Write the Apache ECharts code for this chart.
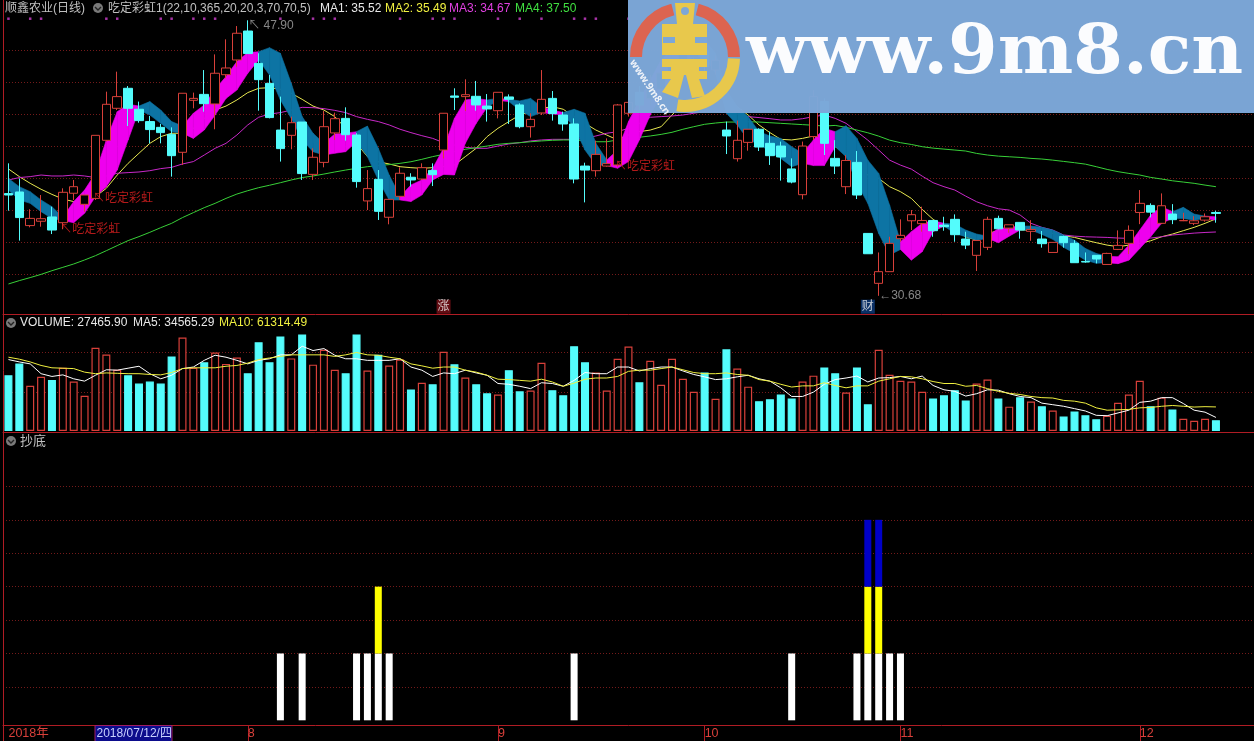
<!DOCTYPE html>
<html>
<head>
<meta charset="utf-8">
<title>顺鑫农业(日线)</title>
<script src="https://cdn.jsdelivr.net/npm/echarts@6/dist/echarts.min.js"></script>
<style>
  html, body { margin: 0; padding: 0; background: #000; overflow: hidden; }
  #main { width: 1254px; height: 741px; }
</style>
</head>
<body>
<div id="main"></div>
<script>
// 日K
const opens = [37.07,37.17,35.07,35.34,35.61,35.25,37.09,36.40,36.77,40.40,
  42.40,43.65,42.34,41.57,41.21,40.77,39.65,42.90,43.27,42.67,
  44.50,45.42,47.23,45.21,43.96,41.04,40.71,41.54,38.27,39.02,
  40.86,41.77,40.73,36.61,37.96,35.59,36.90,38.09,37.98,38.52,
  39.79,43.17,43.13,43.15,42.54,42.25,43.11,42.61,41.25,42.11,
  43.02,41.98,41.42,38.79,38.50,38.79,38.86,42.09,43.40,43.00,
  43.60,44.30,45.00,45.60,46.00,44.80,41.04,39.25,40.27,41.09,
  40.21,40.04,38.61,37.00,40.63,42.82,39.27,37.50,39.02,34.58,
  31.46,32.19,34.25,35.37,35.19,35.39,35.10,35.46,34.23,33.21,
  33.71,35.52,34.91,35.27,34.71,34.23,33.39,34.39,33.96,32.83,
  33.21,32.64,33.58,33.96,35.89,36.33,35.21,35.79,35.37,35.21,
  35.41,35.89];
const closes = [36.98,35.57,35.52,35.50,34.79,37.15,37.50,36.98,40.71,42.65,
  43.13,42.40,41.63,41.07,40.88,39.44,43.34,43.02,42.69,44.59,
  44.92,47.09,45.82,44.19,41.82,39.88,41.50,38.32,39.34,41.25,
  41.75,40.75,37.82,37.38,35.96,36.71,38.34,37.92,38.69,38.25,
  42.09,43.09,43.25,42.61,42.36,43.40,42.96,41.25,41.71,42.96,
  42.07,41.42,37.98,38.54,39.52,38.94,42.61,42.77,42.60,44.00,
  44.60,45.30,46.00,46.50,45.00,45.40,40.67,40.40,41.09,39.98,
  39.44,39.36,37.79,40.04,43.13,40.21,38.79,39.14,36.98,33.31,
  32.19,33.96,34.46,35.75,35.39,34.75,35.00,34.50,33.85,34.14,
  35.46,34.87,35.12,34.79,34.83,33.94,34.02,34.00,32.75,32.79,
  32.98,33.33,33.83,34.77,36.46,35.91,36.31,35.44,35.39,35.37,
  35.62,35.83];
const lows = [36.00,34.13,34.96,35.00,34.54,34.84,36.67,35.94,36.67,40.32,
  42.29,41.29,41.50,40.21,40.21,38.13,38.86,42.40,42.19,41.09,
  44.27,45.00,45.82,42.25,41.77,39.07,39.84,37.92,37.92,38.71,
  40.42,40.38,37.44,36.04,35.42,35.15,36.67,37.50,37.92,37.54,
  39.27,42.29,42.23,42.25,41.57,41.77,41.42,41.15,40.57,41.98,
  41.63,41.00,37.71,36.52,38.13,38.75,38.75,41.88,42.30,42.60,
  43.20,44.00,44.70,45.20,44.60,44.50,39.54,39.07,39.75,39.73,
  38.86,37.88,37.71,36.71,40.42,39.48,38.29,37.04,36.73,33.31,
  30.68,32.19,34.06,34.79,34.69,34.37,34.75,34.06,33.60,32.23,
  33.54,34.83,34.62,34.25,34.12,33.69,33.39,33.69,32.75,32.75,
  32.71,32.64,33.54,33.29,35.16,35.58,35.16,35.16,35.35,35.10,
  35.31,35.25];
const highs = [38.96,38.02,36.09,36.98,36.25,37.40,37.92,36.98,40.71,43.44,
  44.69,43.79,42.82,41.92,41.42,41.21,43.34,43.38,44.79,45.77,
  46.71,47.54,47.90,45.84,44.48,43.13,41.88,41.54,39.90,42.23,
  42.13,42.46,40.84,38.54,38.54,36.71,38.71,38.34,38.96,38.96,
  42.09,43.65,44.21,44.11,43.29,43.40,43.27,42.71,42.09,44.79,
  43.48,42.19,41.77,39.00,40.38,40.52,42.67,42.92,43.80,44.50,
  45.00,45.80,46.60,47.00,46.40,45.70,41.57,41.63,41.09,41.15,
  40.94,40.32,39.27,40.32,43.54,43.02,40.41,39.48,39.73,34.58,
  33.39,34.37,35.46,36.04,36.25,35.39,35.62,35.77,34.69,34.14,
  35.62,35.69,35.12,35.27,35.41,34.73,34.02,34.44,34.16,33.39,
  33.21,33.37,34.77,35.08,37.29,36.46,37.08,36.41,35.87,35.66,
  35.83,36.00];

// 彩虹带 上下沿
const bandTop = [38.02,37.50,37.19,36.67,36.25,35.59,36.57,37.29,38.34,40.42,
  42.19,42.65,42.54,42.82,42.29,41.57,41.29,42.09,42.61,43.59,
  44.38,45.32,45.88,45.94,46.19,45.84,43.96,41.88,40.84,40.21,
  40.79,40.84,40.94,41.29,39.90,38.23,36.88,37.61,37.92,38.65,
  39.90,41.77,42.92,43.02,42.92,43.02,42.96,42.86,43.02,42.50,
  42.29,42.13,42.34,42.09,40.21,39.17,39.79,41.57,42.92,44.17,
  45.42,46.05,46.46,46.77,46.67,45.84,43.54,42.50,41.88,40.94,
  40.67,40.52,40.00,39.59,40.42,41.15,40.94,41.31,40.52,39.16,
  38.33,36.35,34.06,34.69,35.21,35.37,35.21,35.16,34.79,34.54,
  34.41,34.89,34.96,35.04,35.04,34.96,34.79,34.48,34.16,33.64,
  33.33,33.16,33.12,33.85,34.79,35.73,36.25,35.94,36.21,35.79,
  35.66,35.62];
const bandBottom = [37.29,36.67,36.46,35.94,35.52,35.38,35.25,35.84,36.88,37.50,
  38.54,40.42,42.29,41.98,41.46,40.94,40.84,40.52,41.04,41.98,
  43.02,43.54,44.59,45.42,44.48,42.92,41.77,40.42,39.69,39.48,
  39.59,39.69,40.32,39.38,37.92,36.67,36.67,36.57,36.98,37.92,
  38.27,38.23,40.21,41.46,42.46,42.88,42.82,42.29,41.88,42.13,
  42.04,41.98,41.25,39.79,38.86,38.82,38.65,39.07,40.42,41.98,
  43.23,44.38,45.21,45.63,45.63,44.59,42.09,41.36,40.42,40.17,
  39.69,39.27,38.75,38.96,38.82,38.82,40.00,39.37,37.71,36.46,
  34.58,33.23,33.58,32.91,33.44,34.69,35.04,34.58,34.37,34.16,
  34.27,34.00,34.41,34.79,34.79,34.52,34.21,33.71,33.33,32.91,
  32.71,32.75,32.69,32.91,33.64,34.37,35.21,35.52,35.52,35.41,
  35.52,35.41];
// 每一段的方向 1 涨 0 跌
const bandDir = [0,0,0,0,0,1,1,1,1,1,1,1,0,0,0,0,1,1,1,1,
  1,1,1,0,0,0,0,0,0,1,1,1,0,0,0,0,1,1,1,1,
  1,1,1,1,0,1,0,0,0,1,1,0,0,0,0,1,1,1,1,1,
  1,1,1,1,0,0,0,0,0,0,0,0,0,1,1,1,0,0,0,0,
  0,0,1,1,1,1,0,0,0,0,1,1,1,0,0,0,0,0,0,0,
  0,1,1,1,1,1,1,0,0,0,1];

const ma2Line = [38.61,38.13,37.71,37.34,37.02,36.73,36.57,36.61,36.88,37.40,
  38.23,38.96,39.59,40.21,40.63,40.84,40.84,41.15,41.77,42.29,
  42.54,42.92,43.38,43.65,43.69,43.59,43.34,42.96,42.54,42.29,
  41.88,41.15,40.21,39.38,39.06,38.92,38.75,38.69,38.65,38.69,
  38.75,38.86,39.38,39.90,40.63,41.15,41.57,41.98,42.19,42.40,
  42.50,42.34,41.88,41.46,41.04,40.73,40.42,40.73,40.94,41.04,
  41.25,41.98,42.71,43.13,43.23,43.13,42.92,42.50,41.98,41.36,
  40.88,40.46,40.42,40.52,40.67,40.32,40.00,39.58,38.85,38.23,
  38.02,37.50,37.19,36.77,36.08,35.46,35.04,34.79,34.37,34.16,
  34.58,34.75,34.79,34.79,34.79,34.69,34.58,34.44,34.33,34.16,
  34.00,33.85,33.75,33.85,33.96,34.12,34.37,34.54,34.75,34.96,
  35.21,35.49];
const ma3Line = [37.92,38.07,38.13,38.23,38.17,38.17,38.23,38.17,38.07,38.17,
  38.34,38.38,38.42,38.50,38.63,38.71,38.92,39.07,39.48,39.90,
  40.21,40.73,41.36,41.84,42.04,42.13,42.29,42.46,42.44,42.38,
  42.27,42.13,41.88,41.71,41.57,41.36,41.09,40.88,40.69,40.52,
  40.25,40.11,39.96,39.90,39.90,40.04,40.17,40.25,40.36,40.42,
  40.46,40.46,40.46,40.52,40.67,40.84,40.94,41.15,41.46,41.84,
  41.88,41.92,41.98,42.09,42.19,42.19,42.13,42.04,41.88,41.82,
  41.75,41.67,41.67,41.75,41.88,41.98,41.77,41.46,40.94,40.41,
  39.79,39.16,38.85,38.60,38.16,37.75,37.50,37.29,36.91,36.56,
  36.31,36.12,36.04,35.73,35.21,34.96,34.79,34.48,34.41,34.37,
  34.35,34.33,34.29,34.27,34.27,34.29,34.37,34.48,34.54,34.60,
  34.64,34.67];
const ma4Line = [31.42,31.63,31.82,32.02,32.25,32.46,32.67,32.92,33.19,33.50,
  33.82,34.13,34.38,34.65,34.94,35.21,35.57,35.88,36.19,36.46,
  36.77,37.04,37.25,37.44,37.59,37.75,37.92,38.07,38.17,38.29,
  38.42,38.54,38.65,38.75,38.82,38.88,38.96,39.06,39.21,39.38,
  39.52,39.69,39.84,39.94,40.04,40.15,40.21,40.25,40.31,40.36,
  40.40,40.42,40.42,40.38,40.31,40.31,40.42,40.52,40.59,40.67,
  40.77,40.90,41.09,41.25,41.40,41.48,41.54,41.54,41.56,41.54,
  41.50,41.46,41.42,41.38,41.34,41.29,41.33,41.21,41.04,40.87,
  40.66,40.41,40.25,40.14,40.00,39.91,39.85,39.79,39.73,39.58,
  39.48,39.41,39.37,39.33,39.27,39.23,39.16,39.08,39.00,38.91,
  38.75,38.58,38.44,38.33,38.23,38.08,37.98,37.87,37.79,37.71,
  37.60,37.50];

// 成交量 单位:千手
const volumes = [142,172,115,138,130,161,126,90,212,195,
  156,142,121,126,121,190,238,161,175,200,
  171,187,147,226,175,241,185,246,169,207,
  156,147,246,154,194,167,182,106,123,119,
  202,170,136,119,96,93,155,101,103,174,
  104,91,216,175,149,103,184,215,124,179,
  118,184,133,100,149,82,208,159,113,76,
  81,93,83,126,141,162,147,98,162,68,
  207,143,128,126,100,83,91,104,78,121,
  131,83,62,86,75,63,52,37,50,40,
  30,39,72,93,128,63,85,55,31,26,
  31,27.47];
const volMa5 = [182,176,171,146,139,143,133,127,142,156,
  155,160,165,146,133,142,159,163,180,193,
  188,180,171,180,184,194,194,216,205,210,
  193,184,184,180,180,180,184,163,155,139,
  148,146,155,148,142,121,119,114,108,123,
  121,114,129,149,146,146,163,163,153,159,
  163,163,153,144,138,131,133,138,142,133,
  127,110,88,88,99,119,131,135,140,125,
  135,136,139,133,140,116,105,101,89,95,
  105,104,95,88,85,71,67,63,57,51,
  40,39,46,53,73,76,85,85,70,53,
  48,34.57];
const volMa10 = [188,183,176,167,161,160,159,150,146,148,
  147,146,146,144,143,149,159,161,161,161,
  165,167,173,182,186,190,194,194,194,194,
  190,194,200,194,193,188,184,171,166,160,
  163,163,155,150,142,132,131,129,127,132,
  125,114,122,132,135,135,139,152,155,155,
  159,163,156,149,146,146,148,144,142,131,
  127,119,112,115,115,123,116,110,115,115,
  127,133,139,138,133,126,121,121,114,116,
  108,101,96,93,88,85,84,78,76,71,
  59,53,54,55,59,60,63,65,63,61,
  62,61.31];

// 抄底 信号
const whiteIdx = [25,27,32,33,34,35,52,72,78,79,80,81,82];
const yellowIdx = [34,79,80];
const blueIdx = [79,80];

// 顶部信号点 / 标注
const dotIdx = [0,2,3,9,10,14,15,17,18,19,25,28,29,30,36,39,40,41,45,47,49,52,53,54,57];
const priceNoteIdx = [22,80];
const priceNoteVal = [47.90,30.68];
const signalIdx = [5,8,56];
const signalVal = [34.80,36.75,38.74];
const badgeIdx = [40,79];
const badgeText = ["涨","财"];
const badgeBg = ["#7c1018","#0c3c80"];

// 月份刻度
const tickIdx = [0,22,45,64,82,104];
const tickText = ["2018年","8","9","10","11","12"];

const RED = "#d8403a";
const LINE_RED = "#b01c24";
const CYAN = "#54fcfc";
const categories = Array.from({ length: 115 }, (_, i) => String(i));

function flagBars(idxList) {
  return categories.map((_, i) => (idxList.includes(i) ? 2 : 0));
}

const candleData = opens.map((o, i) => [o, closes[i], lows[i], highs[i]]);
const bandData = bandDir.map((d, i) => [i, bandTop[i], bandBottom[i], bandTop[i + 1], bandBottom[i + 1], d]);
const volumeData = volumes.map((v, i) => {
  const up = closes[i] >= opens[i];
  return { value: v, itemStyle: { color: up ? "#000" : CYAN, borderColor: up ? RED : CYAN, borderWidth: 1.2 } };
});

function renderBand(params, api) {
  const i = api.value(0);
  const a = api.coord([i, api.value(1)]);
  const b = api.coord([i + 1, api.value(3)]);
  const c = api.coord([i + 1, api.value(4)]);
  const d = api.coord([i, api.value(2)]);
  const fill = api.value(5) ? "#ee00ee" : "#0d74a4";
  return { type: "polygon", shape: { points: [a, b, c, d] }, style: { fill: fill, stroke: fill, lineWidth: 0.6 } };
}

const font = '"Liberation Sans", "Noto Sans CJK SC", sans-serif';
const txtAt = (text, x, y, fill, size) => ({
  type: "text", x: x, y: y, z: 50,
  style: { text: text, fill: fill, font: (size || 12) + "px " + font, textVerticalAlign: "middle" },
});
const chevron = (x, y) => [
  { type: "circle", z: 50, shape: { cx: x, cy: y, r: 5 }, style: { fill: "#7a7a7a" } },
  { type: "polyline", z: 51, shape: { points: [[x - 3, y - 1], [x, y + 2], [x + 3, y - 1]] }, style: { stroke: "#222", lineWidth: 1.4, fill: null } },
];

const frame = [
  { type: "line", z: 40, shape: { x1: 3.5, y1: 0, x2: 3.5, y2: 741 }, style: { stroke: LINE_RED, lineWidth: 1 } },
  txtAt("顺鑫农业(日线)", 5, 9, "#c0c0c0"),
  ...chevron(98, 8),
  txtAt("吃定彩虹1(22,10,365,20,20,3,70,70,5)", 108, 9, "#c0c0c0"),
  txtAt("MA1: 35.52", 320, 9, "#e8e8e8"),
  txtAt("MA2: 35.49", 385, 9, "#f0f040"),
  txtAt("MA3: 34.67", 449, 9, "#e040e0"),
  txtAt("MA4: 37.50", 515, 9, "#40e040"),
  ...chevron(11, 323),
  txtAt("VOLUME: 27465.90", 20, 323, "#e8e8e8"),
  txtAt("MA5: 34565.29", 133, 323, "#e8e8e8"),
  txtAt("MA10: 61314.49", 219, 323, "#f0f040"),
  ...chevron(11, 441),
  txtAt("抄底", 20, 441, "#c0c0c0", 13),
  // 当前日期框
  { type: "rect", z: 50, shape: { x: 95, y: 725.5, width: 77, height: 16 }, style: { fill: "#0c0c8c", stroke: "#a01c64", lineWidth: 1 } },
  txtAt("2018/07/12/四", 96.5, 733.5, "#c8d0ff", 12),
];

// 水印
const watermark = [
  { type: "rect", z: 90, shape: { x: 628, y: 0, width: 626, height: 113 }, style: { fill: "rgba(124,167,216,0.98)" } },
  { type: "arc", z: 91, shape: { cx: 685, cy: 57, r: 49, startAngle: Math.PI, endAngle: Math.PI * 1.42 }, style: { stroke: "#dc6450", lineWidth: 12, fill: null } },
  { type: "arc", z: 91, shape: { cx: 685, cy: 57, r: 49, startAngle: Math.PI * 1.58, endAngle: Math.PI * 2 }, style: { stroke: "#dc6450", lineWidth: 12, fill: null } },
  { type: "arc", z: 91, shape: { cx: 685, cy: 57, r: 49, startAngle: 0.03, endAngle: Math.PI * 0.55 }, style: { stroke: "#e8c84c", lineWidth: 12, fill: null } },
  { type: "polygon", z: 92, shape: { points: [[675, 3], [695, 3], [693, 24], [707, 24], [707, 55], [662, 55], [662, 24], [677, 24]] }, style: { fill: "#e8c84c" } },
  { type: "rect", z: 93, shape: { x: 663, y: 37, width: 12, height: 6 }, style: { fill: "#7ca7d8" } },
  { type: "rect", z: 93, shape: { x: 695, y: 37, width: 12, height: 6 }, style: { fill: "#7ca7d8" } },
  { type: "circle", z: 93, shape: { cx: 685, cy: 11, r: 4 }, style: { fill: "#7ca7d8" } },
  { type: "polygon", z: 92, shape: { points: [[662, 59], [707, 59], [707, 67], [699, 67], [699, 71], [707, 71], [707, 79], [699, 79], [705, 96], [692, 98], [686, 75], [684, 75], [678, 98], [662, 92], [671, 79], [662, 79], [662, 71], [671, 71], [671, 67], [662, 67]] }, style: { fill: "#e8c84c" } },
  { type: "text", z: 92, x: 636, y: 58, rotation: -0.98, style: { text: "www.9m8.cn", fill: "#eef2f8", font: 'bold 10px "Noto Sans"' } },
  { type: "text", z: 92, x: 746, y: 20, scaleX: 1.02, style: { text: "www.9m8.cn", fill: "#fbfcfe", font: 'bold 70px "DejaVu Serif"' } },
];

const chartDom = document.getElementById("main");
const myChart = echarts.init(chartDom, null, { renderer: "canvas" });

const dotted = { show: true, showMinLine: false, showMaxLine: false, lineStyle: { color: "#741a1a", type: [1, 2], width: 1 } };
const hiddenY = { axisLabel: { show: false }, axisTick: { show: false }, axisLine: { show: false } };
const frameLine = { show: true, onZero: false, lineStyle: { color: LINE_RED, width: 1 } };
const noteLabel = { show: true, position: "right", distance: 0, fontSize: 12, fontFamily: font };

const option = {
  backgroundColor: "#000",
  animation: false,
  grid: [
    { left: 3, right: 0, top: 18.7, height: 288 },
    { left: 3, right: 0, top: 313.25, height: 117.75 },
    { left: 3, right: 0, top: 453, height: 267.3 },
  ],
  xAxis: [
    { type: "category", gridIndex: 0, data: categories, offset: 8, axisLine: frameLine, axisTick: { show: false }, axisLabel: { show: false } },
    { type: "category", gridIndex: 1, data: categories, offset: 1, axisLine: frameLine, axisTick: { show: false }, axisLabel: { show: false } },
    {
      type: "category",
      gridIndex: 2,
      data: categories,
      offset: 4.7,
      axisLine: frameLine,
      axisTick: {
        show: true,
        alignWithLabel: true,
        length: 16,
        interval: (i) => i !== 0 && tickIdx.includes(i),
        lineStyle: { color: LINE_RED },
      },
      axisLabel: {
        show: true,
        margin: 2,
        align: "left",
        verticalAlign: "top",
        color: RED,
        fontSize: 12.5,
        fontFamily: font,
        interval: (i) => tickIdx.includes(i),
        formatter: (v, i) => tickText[tickIdx.indexOf(i)] || "",
      },
    },
  ],
  yAxis: [
    Object.assign({ type: "value", gridIndex: 0, min: 30, max: 48, interval: 2, splitLine: dotted }, hiddenY),
    Object.assign({ type: "value", gridIndex: 1, min: 0, max: 300, interval: 100, splitLine: dotted }, hiddenY),
    Object.assign({ type: "value", gridIndex: 2, min: 0, max: 8, interval: 1, splitLine: dotted }, hiddenY),
  ],
  graphic: { elements: [...frame, ...watermark] },
  series: [
    { name: "MA2", type: "line", data: ma2Line, showSymbol: false, z: 2, lineStyle: { color: "#e8e850", width: 1 } },
    { name: "MA3", type: "line", data: ma3Line, showSymbol: false, z: 2, lineStyle: { color: "#c828c8", width: 1 } },
    { name: "MA4", type: "line", data: ma4Line, showSymbol: false, z: 2, lineStyle: { color: "#38d038", width: 1 } },
    { name: "band", type: "custom", data: bandData, renderItem: renderBand, z: 3, encode: { x: 0, y: [1, 2, 3, 4] } },
    {
      name: "k",
      type: "candlestick",
      data: candleData,
      barWidth: 9,
      z: 4,
      itemStyle: { color: "#000", color0: CYAN, borderColor: RED, borderColor0: CYAN, borderColorDoji: CYAN, borderWidth: 1 },
    },
    {
      name: "dots",
      type: "scatter",
      data: dotIdx.map((i) => [i, 48]),
      symbol: "rect",
      symbolSize: 2.5,
      z: 5,
      itemStyle: { color: "#d040d0" },
    },
    {
      name: "priceNotes",
      type: "scatter",
      data: priceNoteIdx.map((i, n) => ({
        value: [i, priceNoteVal[n]],
        label: { offset: n === 0 ? [0, 5] : [0, 0] },
      })),
      symbolSize: 1,
      z: 6,
      itemStyle: { color: "transparent" },
      label: Object.assign({}, noteLabel, {
        color: "#a8a8a8",
        formatter: (p) => (p.dataIndex === 0 ? "↖ " : "←") + priceNoteVal[p.dataIndex].toFixed(2),
      }),
    },
    {
      name: "signals",
      type: "scatter",
      data: signalIdx.map((i, n) => [i, signalVal[n]]),
      symbolSize: 1,
      z: 6,
      itemStyle: { color: "transparent" },
      label: Object.assign({}, noteLabel, { color: "#e02020", formatter: "↖吃定彩虹", offset: [-3, 0] }),
    },
    {
      name: "badges",
      type: "scatter",
      data: badgeIdx.map((i, n) => ({
        value: [i, 30],
        label: { backgroundColor: badgeBg[n] },
      })),
      symbolSize: 1,
      z: 6,
      itemStyle: { color: "transparent" },
      label: {
        show: true,
        position: "inside",
        color: "#f0f0f0",
        fontSize: 12,
        fontFamily: font,
        padding: [1, 1],
        formatter: (p) => badgeText[p.dataIndex],
      },
    },
    { name: "volume", type: "bar", xAxisIndex: 1, yAxisIndex: 1, data: volumeData, barWidth: 8, z: 2 },
    { name: "MA5", type: "line", xAxisIndex: 1, yAxisIndex: 1, data: volMa5, showSymbol: false, z: 3, lineStyle: { color: "#ffffff", width: 1 } },
    { name: "MA10", type: "line", xAxisIndex: 1, yAxisIndex: 1, data: volMa10, showSymbol: false, z: 3, lineStyle: { color: "#f0f040", width: 1 } },
    { name: "white", type: "bar", xAxisIndex: 2, yAxisIndex: 2, stack: "sig", data: flagBars(whiteIdx), barWidth: 7, itemStyle: { color: "#fff" } },
    { name: "yellow", type: "bar", xAxisIndex: 2, yAxisIndex: 2, stack: "sig", data: flagBars(yellowIdx), barWidth: 7, itemStyle: { color: "#ffff00" } },
    { name: "blue", type: "bar", xAxisIndex: 2, yAxisIndex: 2, stack: "sig", data: flagBars(blueIdx), barWidth: 7, itemStyle: { color: "#0000c8" } },
  ],
};

myChart.setOption(option);
</script>
</body>
</html>
